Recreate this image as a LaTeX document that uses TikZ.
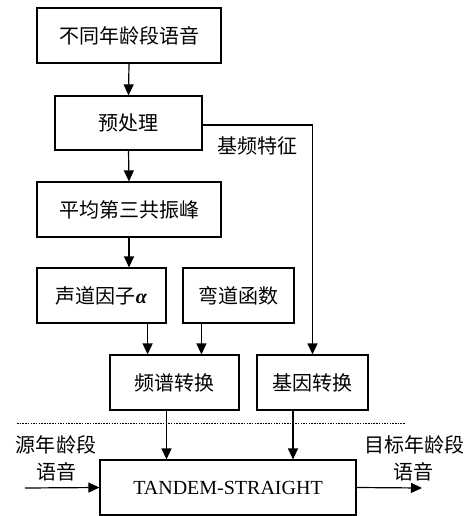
\documentclass[tikz,border=0pt]{standalone}
\usepackage{fontspec}
\setmainfont{Liberation Serif}
\newfontfamily\cjk{Noto Sans CJK SC}
\usetikzlibrary{arrows.meta}
\begin{document}
\begin{tikzpicture}[x=1pt,y=-1pt,
  box/.style={draw,line width=1.2pt,inner sep=0pt,align=center,font=\cjk\fontsize{20}{22}\selectfont},
  lbl/.style={inner sep=0pt,font=\cjk\fontsize{20}{22}\selectfont},
  conn/.style={line width=1.2pt,-{Triangle[length=11pt,width=10pt]}},
  line/.style={line width=1.2pt}]
\useasboundingbox (0,0) rectangle (470,516);
\node[box,minimum width=184pt,minimum height=55pt] (n1) at (129,35.5) {不同年龄段语音};
\node[box,minimum width=147pt,minimum height=54pt] (n2) at (128.5,123) {预处理};
\node[box,minimum width=184pt,minimum height=55pt] (n3) at (129,209.5) {平均第三共振峰};
\node[box,minimum width=129pt,minimum height=55pt] (n4) at (101.5,295.5) {声道因子{\rmfamily\bfseries\itshape α}};
\node[box,minimum width=111pt,minimum height=55pt] (n5) at (238.5,295.5) {弯道函数};
\node[box,minimum width=129pt,minimum height=55pt] (n6) at (174.5,382.5) {频谱转换};
\node[box,minimum width=111pt,minimum height=55pt] (n7) at (312.5,382.5) {基因转换};
\node[box,minimum width=256pt,minimum height=55pt,font=\rmfamily\fontsize{20}{22}\selectfont] (n8) at (228,487.5) {TANDEM-STRAIGHT};
\node[lbl] (f0) at (257,146) {基频特征};
\node[lbl] (src1) at (56,445) {源年龄段};
\node[lbl] (src2) at (56,472) {语音};
\node[lbl] (tgt1) at (414,445) {目标年龄段};
\node[lbl] (tgt2) at (413,472) {语音};
\coordinate (in) at (25,488);
\coordinate (out) at (422,488);
\coordinate (dl) at (17,423);
\coordinate (dr) at (405,423);
\draw[conn] (n1.south) -- (n2.north);
\draw[conn] (n2.south) -- (n3.north);
\draw[conn] (n3.south) -- (n3.south |- n4.north);
\draw[conn] ([yshift=-2pt]n2.east) -| (n7.north);
\draw[conn] ([xshift=-19pt]n4.south east) -- ([xshift=-19pt]n4.south east |- n6.north);
\draw[conn] ([xshift=19pt]n5.south west) -- ([xshift=19pt]n5.south west |- n6.north);
\draw[conn] ([xshift=-8pt]n6.south) -- ([xshift=-8pt]n6.south |- n8.north);
\draw[conn] ([xshift=-19.5pt]n7.south) -- ([xshift=-19.5pt]n7.south |- n8.north);
\draw[line width=1pt,dash pattern=on 1.5pt off 1.2pt] (dl) -- (dr);
\draw[conn] (in) -- (n8.west);
\draw[conn] (n8.east) -- (out);
\end{tikzpicture}
\end{document}
